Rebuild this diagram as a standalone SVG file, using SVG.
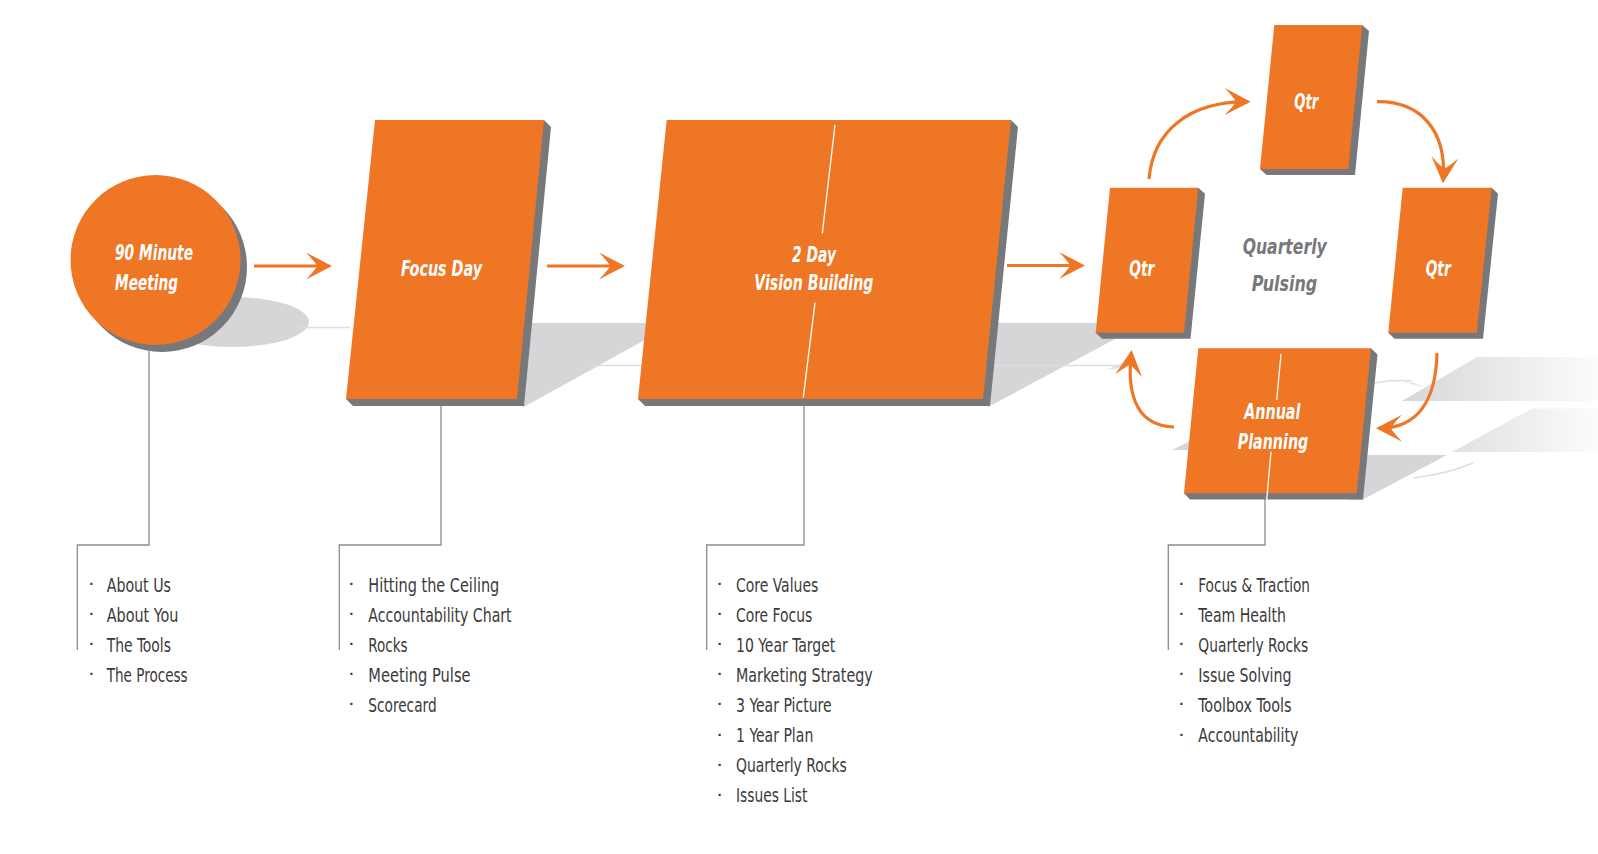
<svg xmlns="http://www.w3.org/2000/svg" width="1598" height="854" viewBox="0 0 1598 854">
<style>
.or{fill:#EE7624}
.sd{fill:#77787C}
.sh{fill:#D6D6D8}
.gl{fill:none;stroke:#DEDEDE;stroke-width:1.5}
.lbl{font-family:"Liberation Sans Narrow","DejaVu Sans Condensed","Liberation Sans",sans-serif;font-weight:bold;font-style:italic;font-size:22px;fill:#FFFFFF}
.qp{font-family:"Liberation Sans Narrow","DejaVu Sans Condensed","Liberation Sans",sans-serif;font-weight:bold;font-style:italic;font-size:22px;fill:#77787C}
.li{font-family:"Liberation Sans Narrow","DejaVu Sans Condensed","Liberation Sans",sans-serif;font-size:19.5px;fill:#3A3A3A}
.bu{font-family:"Liberation Sans","DejaVu Sans",sans-serif;font-size:15px;font-weight:bold;fill:#3A3A3A;text-anchor:middle}
.cn{fill:none;stroke:#8C8C8E;stroke-width:1.3}
.ar{fill:none;stroke:#EE7624;stroke-width:3.2;marker-end:url(#ah)}
.wl{stroke:#FFFFFF;stroke-width:1.3}
</style>
<defs>
<marker id="ah" markerUnits="userSpaceOnUse" markerWidth="40" markerHeight="40" viewBox="-30 -20 40 40" refX="0" refY="0" orient="auto" overflow="visible">
<path d="M3,0 L-23,-13.5 Q-13,-3 -12,0 Q-13,3 -23,13.5 Z" fill="#EE7624"/>
</marker>
<linearGradient id="fade" gradientUnits="userSpaceOnUse" x1="1400" y1="0" x2="1598" y2="0">
<stop offset="0" stop-color="#D6D6D8"/>
<stop offset="1" stop-color="#FCFCFC"/>
</linearGradient>
</defs>
<rect width="1598" height="854" fill="#FFFFFF"/>

<g id="shadows">
<ellipse class="sh" cx="232" cy="322" rx="77" ry="25"/>
<line class="gl" x1="300" y1="327.5" x2="350" y2="327.5"/>
<polygon class="sh" points="528,323 652,323 652,336 523,407.5"/>
<polygon class="sh" points="990,323 1102,323 1117,338 988,407"/>
<line class="gl" x1="590" y1="365.5" x2="1127" y2="365.5"/>
<polygon points="1106,370 1128,361 1124,367" fill="#DEDEDE"/>
<polygon class="sh" points="1172,450 1192,440 1192,450"/>
<polygon class="sh" points="1350,455 1447,455 1362,500 1350,500"/>
<polygon fill="url(#fade)" points="1477,357 1598,357 1598,401 1402,401"/>
<polygon fill="url(#fade)" points="1532,408.5 1598,408.5 1598,452 1452,452"/>
<path class="gl" d="M1375,383 Q1393,379.5 1412,381"/>
<polygon points="1403,382 1428,388 1414,383" fill="#E2E2E2"/>
<path class="gl" d="M1413,478 Q1447,474 1473,463"/>
</g>

<g id="connectors">
<path class="cn" d="M149,351 V545 H77.3 V650"/>
<path class="cn" d="M441,405 V545 H339.3 V650"/>
<path class="cn" d="M804,405 V545 H706.7 V650"/>
<path class="cn" d="M1265,498 V545 H1168.3 V650"/>
<path class="ar" d="M254,266 H329"/>
<path class="ar" d="M547,266 H622"/>
<path class="ar" d="M1007,265.5 H1082"/>
<path class="ar" d="M1149,179 C1153,130 1190,101.5 1247.7,101.7"/>
<path class="ar" d="M1377,101.7 C1420,101 1447,130 1443.2,180.3"/>
<path class="ar" d="M1437,353 C1436,400 1418,428.2 1379,428.3"/>
<path class="ar" d="M1174,427 C1140,426 1126,400 1131.3,353"/>
</g>

<g id="node-90-minute-meeting">
<circle class="sd" cx="162" cy="267" r="85"/>
<circle class="or" cx="155.5" cy="260" r="85"/>
<text class="lbl" x="115" y="260" textLength="78" lengthAdjust="spacingAndGlyphs">90 Minute</text>
<text class="lbl" x="115" y="290" textLength="63" lengthAdjust="spacingAndGlyphs">Meeting</text>
</g>

<g id="node-focus-day">
<polygon class="sd" points="544,120 551,127 524,406 353,406 346,399"/>
<polygon class="or" points="375,120 544,120 517,399 346,399"/>
<text class="lbl" x="401" y="275.7" textLength="81" lengthAdjust="spacingAndGlyphs">Focus Day</text>
</g>

<g id="node-vision-building">
<polygon class="sd" points="1011,120 1018,127 990,406 645,406 638,399"/>
<polygon class="or" points="666.7,120 1011,120 983,399 638,399"/>
<line class="wl" x1="835" y1="125" x2="822.3" y2="233.3"/>
<line class="wl" x1="815" y1="302.7" x2="803.3" y2="397.3"/>
<text class="lbl" x="792" y="261.7" textLength="44" lengthAdjust="spacingAndGlyphs">2 Day</text>
<text class="lbl" x="754.3" y="290" textLength="119" lengthAdjust="spacingAndGlyphs">Vision Building</text>
</g>

<g id="node-qtr-top">
<polygon class="sd" points="1362.3,25 1369,31 1355,175 1266.5,175 1260,169"/>
<polygon class="or" points="1274.3,25 1362.3,25 1348.3,169 1260,169"/>
<text class="lbl" x="1294.3" y="109.3" textLength="24" lengthAdjust="spacingAndGlyphs">Qtr</text>
</g>

<g id="node-qtr-left">
<polygon class="sd" points="1198.3,187.7 1205,193.7 1190.5,338.7 1102,338.7 1095.7,332.7"/>
<polygon class="or" points="1110,187.7 1198.3,187.7 1184,332.7 1095.7,332.7"/>
<text class="lbl" x="1129.3" y="276" textLength="25" lengthAdjust="spacingAndGlyphs">Qtr</text>
</g>

<g id="node-qtr-right">
<polygon class="sd" points="1491.7,187.7 1498,193.7 1483,338.7 1394.5,338.7 1388.3,332.7"/>
<polygon class="or" points="1402.7,187.7 1491.7,187.7 1476.7,332.7 1388.3,332.7"/>
<text class="lbl" x="1425.7" y="276" textLength="25" lengthAdjust="spacingAndGlyphs">Qtr</text>
</g>

<g id="node-quarterly-pulsing">
<text class="qp" x="1242.7" y="254.3" textLength="84" lengthAdjust="spacingAndGlyphs">Quarterly</text>
<text class="qp" x="1251.7" y="290.7" textLength="65.6" lengthAdjust="spacingAndGlyphs">Pulsing</text>
</g>

<g id="node-annual-planning">
<polygon class="sd" points="1371,348.3 1377.5,354.5 1363,499.5 1190,499.5 1184,493.3"/>
<polygon class="or" points="1198.3,348.3 1371,348.3 1356.7,493.3 1184,493.3"/>
<line class="wl" x1="1281" y1="354" x2="1276.7" y2="400"/>
<line class="wl" x1="1271" y1="451.7" x2="1266.7" y2="500"/>
<text class="lbl" x="1244.3" y="419" textLength="56" lengthAdjust="spacingAndGlyphs">Annual</text>
<text class="lbl" x="1237.7" y="449" textLength="70.6" lengthAdjust="spacingAndGlyphs">Planning</text>
</g>

<g id="list-90-minute">
<text class="bu" x="91.7" y="589">·</text><text class="li" x="106.7" y="591.5" textLength="64.3" lengthAdjust="spacingAndGlyphs">About Us</text>
<text class="bu" x="91.7" y="619.1">·</text><text class="li" x="106.7" y="621.6" textLength="71.7" lengthAdjust="spacingAndGlyphs">About You</text>
<text class="bu" x="91.7" y="649.2">·</text><text class="li" x="106.7" y="651.7" textLength="64.3" lengthAdjust="spacingAndGlyphs">The Tools</text>
<text class="bu" x="91.7" y="679.3">·</text><text class="li" x="106.7" y="681.8" textLength="81" lengthAdjust="spacingAndGlyphs">The Process</text>
</g>

<g id="list-focus-day">
<text class="bu" x="351.7" y="589">·</text><text class="li" x="368.3" y="591.5" textLength="131" lengthAdjust="spacingAndGlyphs">Hitting the Ceiling</text>
<text class="bu" x="351.7" y="619.1">·</text><text class="li" x="368.3" y="621.6" textLength="143.3" lengthAdjust="spacingAndGlyphs">Accountability Chart</text>
<text class="bu" x="351.7" y="649.2">·</text><text class="li" x="368.3" y="651.7" textLength="39.3" lengthAdjust="spacingAndGlyphs">Rocks</text>
<text class="bu" x="351.7" y="679.3">·</text><text class="li" x="368.3" y="681.8" textLength="102.3" lengthAdjust="spacingAndGlyphs">Meeting Pulse</text>
<text class="bu" x="351.7" y="709.4">·</text><text class="li" x="368.3" y="711.9" textLength="68.3" lengthAdjust="spacingAndGlyphs">Scorecard</text>
</g>

<g id="list-vision-building">
<text class="bu" x="720" y="589">·</text><text class="li" x="736" y="591.5" textLength="82.3" lengthAdjust="spacingAndGlyphs">Core Values</text>
<text class="bu" x="720" y="619.1">·</text><text class="li" x="736" y="621.6" textLength="76.3" lengthAdjust="spacingAndGlyphs">Core Focus</text>
<text class="bu" x="720" y="649.2">·</text><text class="li" x="736" y="651.7" textLength="99.3" lengthAdjust="spacingAndGlyphs">10 Year Target</text>
<text class="bu" x="720" y="679.3">·</text><text class="li" x="736" y="681.8" textLength="136.7" lengthAdjust="spacingAndGlyphs">Marketing Strategy</text>
<text class="bu" x="720" y="709.4">·</text><text class="li" x="736" y="711.9" textLength="95.7" lengthAdjust="spacingAndGlyphs">3 Year Picture</text>
<text class="bu" x="720" y="739.5">·</text><text class="li" x="736" y="742" textLength="77.3" lengthAdjust="spacingAndGlyphs">1 Year Plan</text>
<text class="bu" x="720" y="769.6">·</text><text class="li" x="736" y="772.1" textLength="110.7" lengthAdjust="spacingAndGlyphs">Quarterly Rocks</text>
<text class="bu" x="720" y="799.7">·</text><text class="li" x="736" y="802.2" textLength="71.3" lengthAdjust="spacingAndGlyphs">Issues List</text>
</g>

<g id="list-annual-planning">
<text class="bu" x="1181.7" y="589">·</text><text class="li" x="1198.3" y="591.5" textLength="111.7" lengthAdjust="spacingAndGlyphs">Focus &amp; Traction</text>
<text class="bu" x="1181.7" y="619.1">·</text><text class="li" x="1198.3" y="621.6" textLength="87.7" lengthAdjust="spacingAndGlyphs">Team Health</text>
<text class="bu" x="1181.7" y="649.2">·</text><text class="li" x="1198.3" y="651.7" textLength="110" lengthAdjust="spacingAndGlyphs">Quarterly Rocks</text>
<text class="bu" x="1181.7" y="679.3">·</text><text class="li" x="1198.3" y="681.8" textLength="93.3" lengthAdjust="spacingAndGlyphs">Issue Solving</text>
<text class="bu" x="1181.7" y="709.4">·</text><text class="li" x="1198.3" y="711.9" textLength="93.3" lengthAdjust="spacingAndGlyphs">Toolbox Tools</text>
<text class="bu" x="1181.7" y="739.5">·</text><text class="li" x="1198.3" y="742" textLength="100" lengthAdjust="spacingAndGlyphs">Accountability</text>
</g>
</svg>
